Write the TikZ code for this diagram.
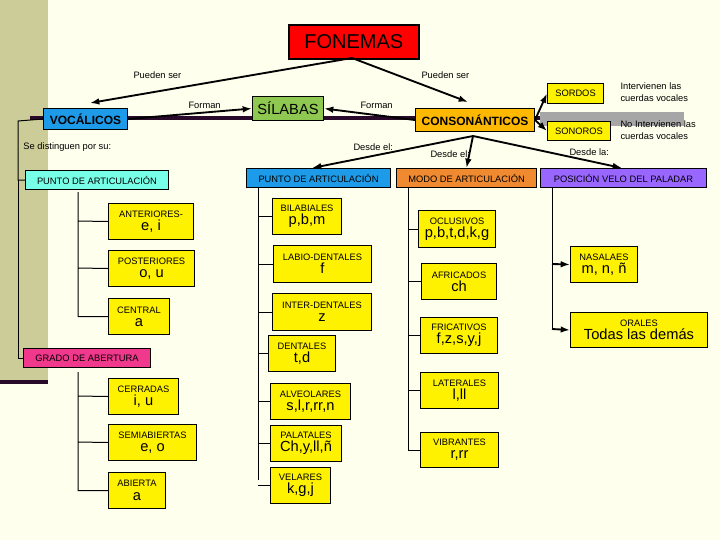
\documentclass[tikz,border=0pt]{standalone}
\usepackage{fontspec}
\setmainfont{Liberation Sans}
\usetikzlibrary{arrows.meta}
\definecolor{cream}{HTML}{FFFFEE}
\definecolor{khaki}{HTML}{CCCC99}
\definecolor{vocblue}{HTML}{1E9BE8}
\definecolor{silgreen}{HTML}{8FC850}
\definecolor{conorange}{HTML}{FFB800}
\definecolor{modorange}{HTML}{F08A30}
\definecolor{pospurple}{HTML}{9966FF}
\definecolor{puncyan}{HTML}{77FFE8}
\definecolor{grapink}{HTML}{F0388C}
\definecolor{darkbar}{HTML}{2A0A2A}
\tikzset{every picture/.style={line width=0.75pt}}
\tikzset{
  sz/.style 2 args={minimum width=#1*0.75pt, minimum height=#2*0.75pt},
  hbox/.style={draw, anchor=north west, inner sep=0pt, align=center},
  subbox/.style={hbox, fill=yellow, font=\fontsize{7}{9}\selectfont},
  lbl/.style={anchor=west, inner sep=0pt, font=\fontsize{7}{9}\selectfont},
  arr/.style={-{Latex[length=7pt,width=5pt]}, line width=1.4pt},
}
\newcommand{\sonido}[1]{\\[1pt]{\fontsize{11}{12}\selectfont #1}}

\begin{document}
\begin{tikzpicture}[x=0.75pt,y=0.75pt,yscale=-1,xscale=1]
\useasboundingbox[fill=cream] (0,0) rectangle (720,540);
\fill[khaki] (0,0) rectangle (48,382);
\draw[darkbar, line width=2.5pt] (0,382) -- (48,382);

%bars
\fill[gray!70] (540,112) rectangle (684,126);
\draw[darkbar, line width=3pt] (30,118) -- (540,118);

%main boxes
\node[hbox, fill=red, sz={130}{34}, font=\fontsize{15}{17}\selectfont, line width=1.2pt] (fon) at (288,24) {FONEMAS};
\node[hbox, fill=vocblue, sz={84}{21}, font=\fontsize{9}{11}\selectfont\bfseries] (voc) at (43,108) {VOCÁLICOS};
\node[hbox, fill=silgreen, sz={71}{24}, font=\fontsize{11}{13}\selectfont] (sil) at (252,96) {SÍLABAS};
\node[hbox, fill=conorange, sz={119}{23}, font=\fontsize{9}{11}\selectfont\bfseries] (con) at (415,108) {CONSONÁNTICOS};
\node[subbox, sz={56}{20}] (sor) at (547,83) {SORDOS};
\node[subbox, sz={63}{19}] (son) at (547,121) {SONOROS};

\node[hbox, fill=puncyan, sz={143}{19}, font=\fontsize{7}{9}\selectfont] (pv) at (25,170) {PUNTO DE ARTICULACIÓN};
\node[hbox, fill=grapink, sz={127}{19}, font=\fontsize{7}{9}\selectfont] (gra) at (23,348) {GRADO DE ABERTURA};
\node[hbox, fill=vocblue, sz={144}{19}, font=\fontsize{7}{9}\selectfont] (pc) at (246,168) {PUNTO DE ARTICULACIÓN};
\node[hbox, fill=modorange, sz={140}{19}, font=\fontsize{7}{9}\selectfont] (mod) at (396,168) {MODO DE ARTICULACIÓN};
\node[hbox, fill=pospurple, sz={166}{19}, font=\fontsize{7}{9}\selectfont] (pos) at (540,168) {POSICIÓN VELO DEL PALADAR};

%labels
\node[lbl] (l1) at (133,75) {Pueden ser};
\node[lbl] (l2) at (421,75) {Pueden ser};
\node[lbl] (l3) at (188,105) {Forman};
\node[lbl] (l4) at (360,105) {Forman};
\node[lbl] (l5) at (23,147) {Se distinguen por su:};
\node[lbl] (l6) at (353,147) {Desde el:};
\node[lbl] (l7) at (430,154) {Desde el:};
\node[lbl] (l8) at (569,152) {Desde la:};
\node[lbl, align=left] (l9) at (620,92) {Intervienen las\\cuerdas vocales};
\node[lbl, align=left] (l10) at (620,130) {No Intervienen las\\cuerdas vocales};

%vowel boxes
\node[subbox, sz={85}{36}] (ant) at (108,203) {ANTERIORES-\sonido{e, i}};
\node[subbox, sz={86}{36}] (post) at (108,250) {POSTERIORES\sonido{o, u}};
\node[subbox, sz={61}{36}] (cen) at (108,298) {CENTRAL\sonido{a}};
\node[subbox, sz={70}{36}] (cer) at (108,378) {CERRADAS\sonido{i, u}};
\node[subbox, sz={88}{36}] (sem) at (108,424) {SEMIABIERTAS\sonido{e, o}};
\node[subbox, sz={57}{36}] (abi) at (108,472) {ABIERTA\sonido{a}};

%consonant point boxes
\node[subbox, sz={69}{36}] (bil) at (272,198) {BILABIALES\sonido{p,b,m}};
\node[subbox, sz={98}{37}] (lab) at (273,245) {LABIO-DENTALES\sonido{f}};
\node[subbox, sz={99}{37}] (int) at (272,293) {INTER-DENTALES\sonido{z}};
\node[subbox, sz={67}{36}] (den) at (268,335) {DENTALES\sonido{t,d}};
\node[subbox, sz={80}{36}] (alv) at (270,383) {ALVEOLARES\sonido{s,l,r,rr,n}};
\node[subbox, sz={71}{36}] (pal) at (270,425) {PALATALES\sonido{Ch,y,ll,ñ}};
\node[subbox, sz={60}{36}] (vel) at (270,467) {VELARES\sonido{k,g,j}};

%mode boxes
\node[subbox, sz={77}{37}] (ocl) at (418,210) {OCLUSIVOS\sonido{p,b,t,d,k,g}};
\node[subbox, sz={75}{36}] (afr) at (421,263) {AFRICADOS\sonido{ch}};
\node[subbox, sz={77}{36}] (fri) at (420,317) {FRICATIVOS\sonido{f,z,s,y,j}};
\node[subbox, sz={78}{36}] (lat) at (420,372) {LATERALES\sonido{l,ll}};
\node[subbox, sz={78}{35}] (vib) at (420,432) {VIBRANTES\sonido{r,rr}};

%velum boxes
\node[subbox, sz={67}{36}] (nas) at (570,246) {NASALAES\sonido{m, n, ñ}};
\node[subbox, sz={137}{35}] (ora) at (570,312) {ORALES\sonido{Todas las demás}};

%arrows
\coordinate (fb) at (352,58);
\coordinate (cb) at (473,136);
\draw[arr] (fb) -- (90,103);
\draw[arr] (fb) -- (468,102);
\draw[arr] (voc.east) -- (sil.west);
\draw[arr] (con.west) -- (sil.east);
\draw[arr] (con.east) -- (sor.west);
\draw[arr] (con.east) -- (son.west);
\draw[arr] (cb) -- (312,168);
\draw[arr] (cb) -- (mod.north);
\draw[arr] (cb) -- (622,168);

%trees
\coordinate (tp) at (258,187);
\coordinate (tm) at (408,187);
\draw (voc.west) -- (18,121) |- (pv.west);
\draw (18,180) |- (gra.west);
\draw (78,192) |- (cen.west) (ant.west) -- (78,221) (post.west) -- (78,268);
\draw (78,372) |- (abi.west) (cer.west) -- (78,396) (sem.west) -- (78,442);
\draw (tp) -- (258,480);
\foreach \n in {bil,lab,int,den,alv,pal,vel} \draw (\n.west) -- (\n.west -| tp);
\draw (tm) |- (vib.west);
\foreach \n in {ocl,afr,fri,lat} \draw (\n.west) -- (\n.west -| tm);
\draw (552,187) -- (552,329);
\draw[arr] (552,264) -- (nas.west);
\draw[arr] (552,329) -- (ora.west);
\end{tikzpicture}
\end{document}
